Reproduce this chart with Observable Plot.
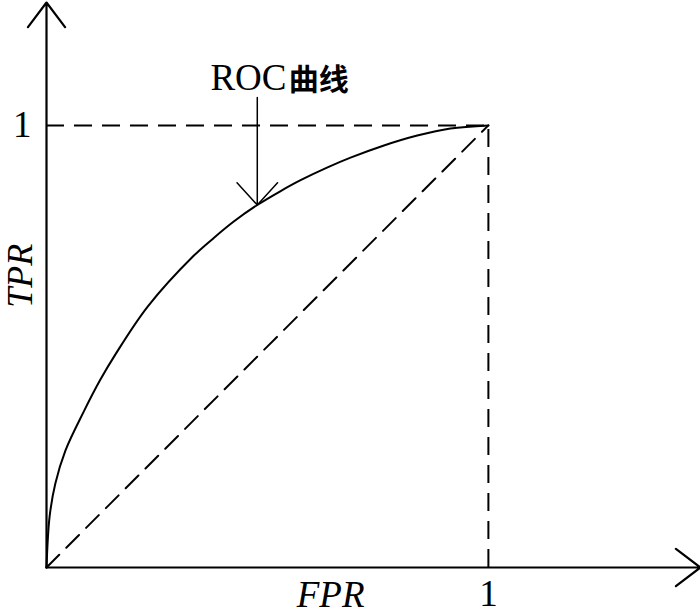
<!DOCTYPE html>
<html>
<head>
<meta charset="utf-8">
<script src="https://cdn.jsdelivr.net/npm/d3@7"></script>
<script src="https://cdn.jsdelivr.net/npm/@observablehq/plot@0.6"></script>
<style>
  html, body { margin: 0; padding: 0; background: white; }
  svg { display: block; }
</style>
</head>
<body>
<div id="chart"></div>
<script>
// ROC curve points (FPR, TPR)
const fpr = [0, 0.007, 0.020, 0.043, 0.084, 0.122, 0.156, 0.229, 0.333, 0.378, 0.423, 0.477, 0.529, 0.575, 0.636, 0.688, 0.762, 0.839, 0.914, 1];
const tpr = [0, 0.115, 0.190, 0.265, 0.352, 0.425, 0.482, 0.590, 0.705, 0.745, 0.782, 0.820, 0.851, 0.876, 0.905, 0.927, 0.954, 0.977, 0.993, 1];
const xTicks = [1];
const yTicks = [1];
const xLabel = "FPR";
const yLabel = "TPR";
const annotationParts = ["ROC", "曲线"];
const annotationPoint = [0.477, 0.820];   // where the arrow points on the curve
const annotationStartY = 1.063;           // where the arrow starts (data units)

const roc = fpr.map((x, i) => ({x, y: tpr[i]}));
const xMax = 1.48, yMax = 1.278;

const dash = "18,10";
const chart = Plot.plot({
  width: 700,
  height: 614,
  marginLeft: 46,
  marginRight: 0,
  marginTop: 2,
  marginBottom: 47,
  x: {domain: [0, xMax]},
  y: {domain: [0, yMax]},
  style: {fontFamily: "'Liberation Serif', 'Times New Roman', serif", background: "white", color: "black"},
  marks: [
    // dashed reference lines
    Plot.ruleY(yTicks, {x1: 0, x2: 1, stroke: "black", strokeWidth: 2, strokeDasharray: dash}),
    Plot.ruleX(xTicks, {y1: 0, y2: 1, stroke: "black", strokeWidth: 2, strokeDasharray: dash}),
    Plot.line([{x: 0, y: 0}, {x: 1, y: 1}], {x: "x", y: "y", stroke: "black", strokeWidth: 2, strokeDasharray: dash}),
    // ROC curve
    Plot.line(roc, {x: "x", y: "y", curve: "catmull-rom", stroke: "black", strokeWidth: 2}),
    // axes with arrows
    Plot.arrow([{x1: 0, y1: 0, x2: xMax, y2: 0}, {x1: 0, y1: 0, x2: 0, y2: yMax}],
      {x1: "x1", y1: "y1", x2: "x2", y2: "y2", stroke: "black", strokeWidth: 2.2, headLength: 21, headAngle: 74}),
    // tick labels "1"
    Plot.axisX({ticks: xTicks, tickSize: 0, tickPadding: 12, fontSize: 37, label: null, tickFormat: d => String(d)}),
    Plot.axisY({ticks: yTicks, tickSize: 0, tickPadding: 15, fontSize: 37, label: null, tickFormat: d => String(d)}),
    // axis titles
    Plot.text([xLabel], {x: 0.643, frameAnchor: "bottom", dy: 39, lineAnchor: "bottom", fontSize: 37, fontStyle: "italic", textAnchor: "middle"}),
    Plot.text([yLabel], {y: 0.66, frameAnchor: "left", dx: -15, rotate: -90, lineAnchor: "bottom", fontSize: 36, fontStyle: "italic", textAnchor: "middle"}),
    // annotation arrow
    Plot.arrow([{x: annotationPoint[0], y1: annotationStartY, y2: annotationPoint[1]}],
      {x1: "x", x2: "x", y1: "y1", y2: "y2", stroke: "black", strokeWidth: 1.5, headLength: 30, headAngle: 85}),
    Plot.text([annotationParts[0]], {x: 0.371, y: 1.08, textAnchor: "start", lineAnchor: "bottom", dy: 0, fontSize: 37}),
    Plot.text([annotationParts[1]], {x: 0.548, y: 1.08, textAnchor: "start", lineAnchor: "bottom", dy: 0, fontSize: 30, fontWeight: "bold",
      fontFamily: "'Noto Sans CJK SC', sans-serif"})
  ]
});
document.getElementById("chart").appendChild(chart);
</script>
</body>
</html>
